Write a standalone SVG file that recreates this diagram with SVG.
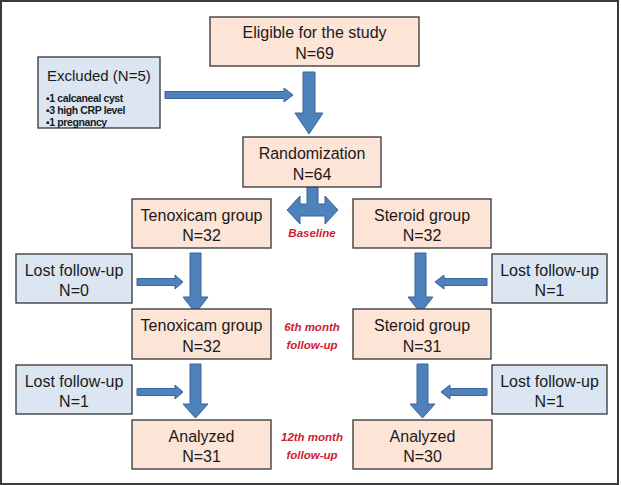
<svg xmlns="http://www.w3.org/2000/svg" width="621" height="485" viewBox="0 0 621 485">
<style>
.peach{fill:#fce4d6;stroke:#404040;stroke-width:1.4}
.blue{fill:#dce6f2;stroke:#404040;stroke-width:1.4}
.t{font-family:"Liberation Sans",Arial,sans-serif;font-size:16px;fill:#1a1a1a;text-anchor:middle}
.b{font-family:"Liberation Sans",Arial,sans-serif;font-size:10.5px;font-weight:bold;fill:#1a1a1a;letter-spacing:-0.4px}
.r{font-family:"Liberation Sans",Arial,sans-serif;font-size:11.5px;font-weight:bold;font-style:italic;fill:#d02030;text-anchor:middle}
.arrow{fill:#4f81bd;stroke:#3a6598;stroke-width:1}
</style>
<rect x="1" y="1" width="617" height="483" fill="#ffffff" stroke="#3a3a3a" stroke-width="2"/>

<g id="connectors">
<polygon class="arrow" points="165,91.5 284,91.5 284,88 293,95 284,102 284,98.5 165,98.5"/>
<polygon class="arrow" points="303,72 315,72 315,113 323,113 309,134 295,113 303,113"/>
<polygon class="arrow" points="307,187 318,187 318,204 325,204 325,196 338,210 325,224 325,216 300,216 300,224 287,210 300,196 300,204 307,204"/>
<polygon class="arrow" points="190,253 201,253 201,297 208,297 195.5,313 183,297 190,297"/>
<polygon class="arrow" points="190,364 201,364 201,404 208,404 195.5,418 183,404 190,404"/>
<polygon class="arrow" points="415,253 426,253 426,297 433,297 420.5,313 408,297 415,297"/>
<polygon class="arrow" points="417,364 428,364 428,404 435,404 422.5,418 410,404 417,404"/>
<polygon class="arrow" points="137,278.5 175,278.5 175,275 183,282 175,289 175,285.5 137,285.5"/>
<polygon class="arrow" points="137,388.5 175,388.5 175,385 183,392 175,399 175,395.5 137,395.5"/>
<polygon class="arrow" points="487,278.5 444,278.5 444,275 435,282 444,289 444,285.5 487,285.5"/>
<polygon class="arrow" points="487,388.5 450,388.5 450,385 441,392 450,399 450,395.5 487,395.5"/>
</g>

<g id="eligible">
<rect class="peach" x="210" y="17" width="209" height="49"/>
<text class="t" x="314.5" y="38">Eligible for the study</text>
<text class="t" x="314.5" y="59">N=69</text>
</g>

<g id="excluded">
<rect class="blue" x="38" y="57" width="122" height="71"/>
<text class="t" x="47" y="81" style="text-anchor:start;font-size:15px">Excluded (N=5)</text>
<text class="b" x="46" y="102">▪1 calcaneal cyst</text>
<text class="b" x="46" y="114">▪3 high CRP level</text>
<text class="b" x="46" y="125.5">▪1 pregnancy</text>
</g>

<g id="randomization">
<rect class="peach" x="243" y="137" width="138" height="50"/>
<text class="t" x="312" y="159">Randomization</text>
<text class="t" x="312" y="180">N=64</text>
</g>

<g id="tenox1">
<rect class="peach" x="132" y="199" width="139" height="49"/>
<text class="t" x="201.5" y="221">Tenoxicam group</text>
<text class="t" x="201.5" y="241">N=32</text>
</g>

<g id="steroid1">
<rect class="peach" x="353" y="199" width="138" height="49"/>
<text class="t" x="422" y="221">Steroid group</text>
<text class="t" x="422" y="241">N=32</text>
</g>

<g id="baseline">
<text class="r" x="312" y="237">Baseline</text>
</g>

<g id="lost-left-1">
<rect class="blue" x="16" y="254" width="116" height="49"/>
<text class="t" x="74" y="276">Lost follow-up</text>
<text class="t" x="74" y="296">N=0</text>
</g>

<g id="lost-right-1">
<rect class="blue" x="492" y="254" width="115" height="49"/>
<text class="t" x="549.5" y="276">Lost follow-up</text>
<text class="t" x="549.5" y="296">N=1</text>
</g>

<g id="tenox2">
<rect class="peach" x="132" y="309" width="139" height="50"/>
<text class="t" x="201.5" y="331">Tenoxicam group</text>
<text class="t" x="201.5" y="352">N=32</text>
</g>

<g id="steroid2">
<rect class="peach" x="353" y="309" width="138" height="50"/>
<text class="t" x="422" y="331">Steroid group</text>
<text class="t" x="422" y="352">N=31</text>
</g>

<g id="month6">
<text class="r" x="312" y="331">6th month</text>
<text class="r" x="312" y="349">follow-up</text>
</g>

<g id="lost-left-2">
<rect class="blue" x="16" y="365" width="116" height="49"/>
<text class="t" x="74" y="387">Lost follow-up</text>
<text class="t" x="74" y="407">N=1</text>
</g>

<g id="lost-right-2">
<rect class="blue" x="492" y="365" width="115" height="49"/>
<text class="t" x="549.5" y="387">Lost follow-up</text>
<text class="t" x="549.5" y="407">N=1</text>
</g>

<g id="analyzed-left">
<rect class="peach" x="132" y="420" width="139" height="49"/>
<text class="t" x="201.5" y="442">Analyzed</text>
<text class="t" x="201.5" y="462">N=31</text>
</g>

<g id="analyzed-right">
<rect class="peach" x="353" y="420" width="139" height="49"/>
<text class="t" x="422.5" y="442">Analyzed</text>
<text class="t" x="422.5" y="462">N=30</text>
</g>

<g id="month12">
<text class="r" x="312" y="441">12th month</text>
<text class="r" x="312" y="459">follow-up</text>
</g>
</svg>
